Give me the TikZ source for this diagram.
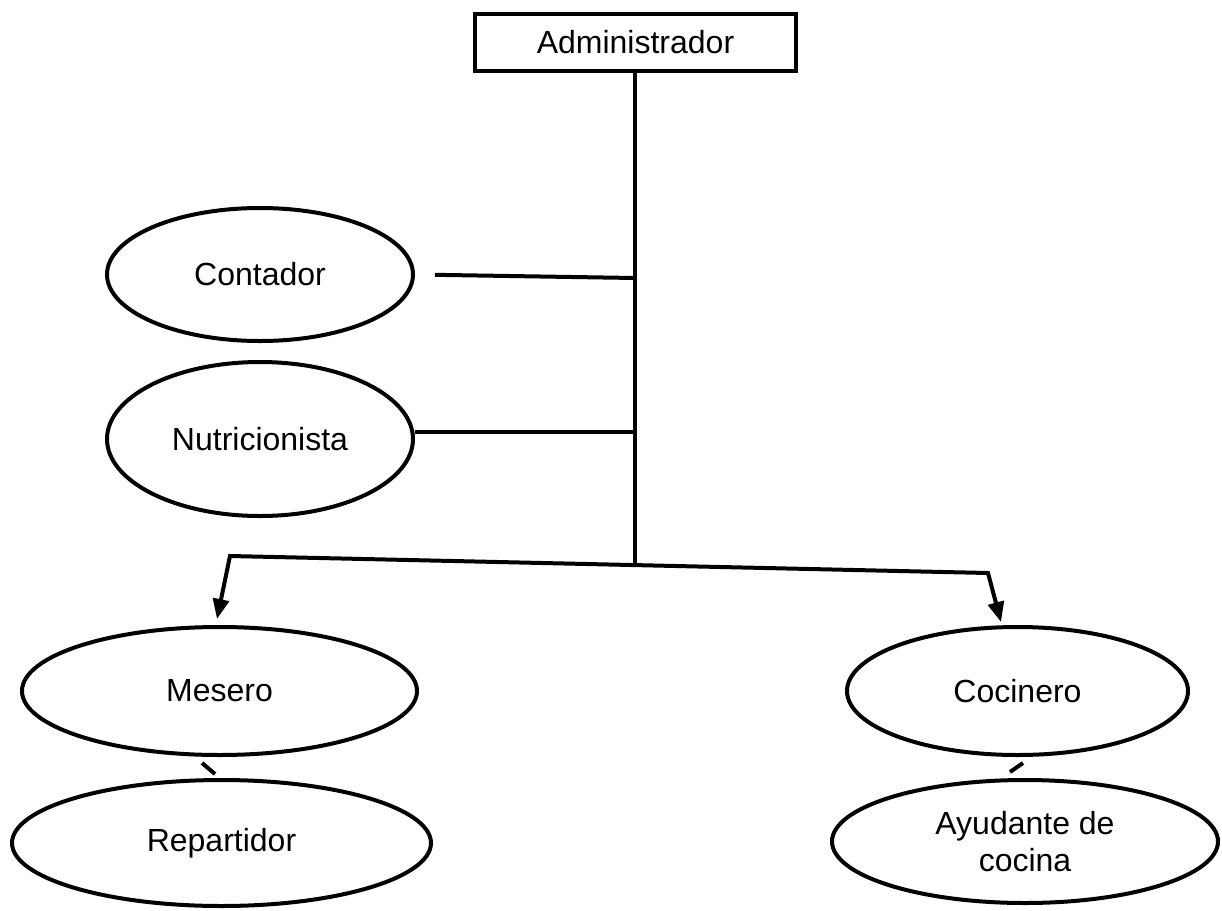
\documentclass[tikz,border=0pt]{standalone}
\usepackage{fontspec}
\setmainfont{Liberation Sans}
\usetikzlibrary{arrows.meta,shapes.geometric}
\begin{document}
\begin{tikzpicture}[x=0.5pt,y=-0.5pt,
  line width=2pt, line join=miter,
  every node/.style={font=\fontsize{16}{18.5}\selectfont, align=center, inner sep=0pt},
  role/.style={draw, ellipse},
  head/.style={draw, rectangle, minimum width=160.5pt, minimum height=28.5pt},
  link/.style={line width=2pt},
  branch/.style={line width=2pt, {Triangle[length=10pt,width=8pt]}-{Triangle[length=10pt,width=8pt]}}
]
\useasboundingbox (0,0) rectangle (1222,911);
\fill[white] (0,0) rectangle (1222,911);

% top of the chart
\node[head] (admin) at (635.5,42.5) {Administrador};

% staff positions
\node[role, minimum width=153pt, minimum height=66.5pt] (contador) at (260,274.5) {Contador};
\node[role, minimum width=153pt, minimum height=77pt]   (nutri)    at (260,439)   {Nutricionista};
\node[role, minimum width=197.5pt, minimum height=64pt] (mesero)   at (219.5,691) {Mesero};
\node[role, minimum width=209.5pt, minimum height=63pt] (repart)   at (221.5,843) {Repartidor};
\node[role, minimum width=170.5pt, minimum height=64pt] (cocinero) at (1017.5,691) {Cocinero};
\node[role, minimum width=193pt, minimum height=61.5pt] (ayudante) at (1025,841.5) {Ayudante de\\cocina};

% trunk and side branches
\coordinate (tc) at (635,278);
\coordinate (tn) at (635,432);
\coordinate (tb) at (635,565);
\draw[link] (admin.south -| tb) -- (tb);
\draw[link, shorten <=10pt] (contador.east) -- (tc);
\draw[link] (nutri.east |- tn) -- (tn);

% lower branch with arrows
\coordinate (bl) at (230,556);
\coordinate (br) at (988,573);
\coordinate (mtip) at (217,619);
\coordinate (ctip) at (1001,622);
\draw[branch] (mtip) -- (bl) -- (br) -- (ctip);

% short ties between stacked positions
\coordinate (m1) at (202,763);
\coordinate (m2) at (215,774);
\coordinate (c1) at (1023,763);
\coordinate (c2) at (1010,772);
\draw[link] (m1) -- (m2);
\draw[link] (c1) -- (c2);
\end{tikzpicture}
\end{document}
